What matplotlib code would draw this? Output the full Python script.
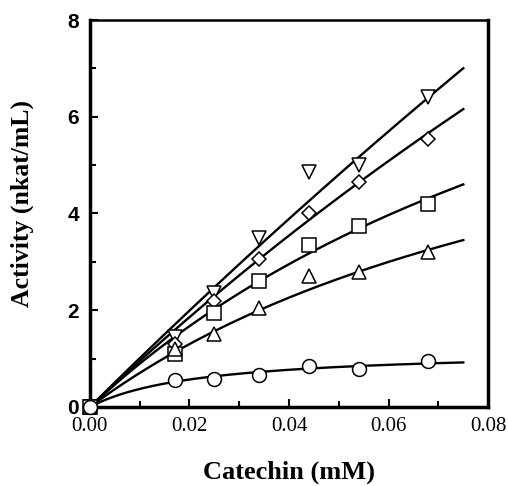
import matplotlib
matplotlib.use("Agg")
import matplotlib.pyplot as plt
import numpy as np
from matplotlib.ticker import MultipleLocator

# catechin concentration (mM)
conc = [0.0, 0.017, 0.025, 0.034, 0.044, 0.054, 0.068]

# activity (nkat/mL) for each series
act_invtri = [0.0, 1.45, 2.35, 3.5, 4.85, 5.0, 6.4]
act_diamond = [0.0, 1.3, 2.2, 3.05, 4.0, 4.65, 5.55]
act_square = [0.0, 1.1, 1.95, 2.6, 3.35, 3.75, 4.2]
act_tri = [0.0, 1.2, 1.5, 2.05, 2.7, 2.8, 3.2]
act_circle = [0.0, 0.55, 0.58, 0.67, 0.85, 0.78, 0.95]

# Michaelis-Menten fit parameters
vmax = [81.7, 39.0, 12.7, 8.65, 1.19]
km = [0.8, 0.40, 0.132, 0.113, 0.0219]

series = [act_invtri, act_diamond, act_square, act_tri, act_circle]
markers = ['v', 'D', 's', '^', 'o']
msizes = [10, 7.5, 9.5, 10, 10]

fig = plt.figure(figsize=(5.08, 4.86), dpi=100)
ax = fig.add_axes([0.177, 0.1626, 0.784, 0.7962])

xfit = np.linspace(0, 0.075, 200)
for y, m, ms, v, k in zip(series, markers, msizes, vmax, km):
    ax.plot(xfit, v * xfit / (k + xfit), color='black', lw=1.7, zorder=2)
    ax.plot(conc, y, linestyle='none', marker=m, ms=ms, mfc='white',
            mec='black', mew=1.1, zorder=3, clip_on=False)

ax.set_xlim(0, 0.08)
ax.set_ylim(0, 8)
ax.xaxis.set_major_locator(MultipleLocator(0.02))
ax.xaxis.set_minor_locator(MultipleLocator(0.01))
ax.yaxis.set_major_locator(MultipleLocator(2))
ax.yaxis.set_minor_locator(MultipleLocator(1))
ax.tick_params(which='both', direction='in', width=1.5)
ax.tick_params(which='major', length=6)
ax.tick_params(which='minor', length=4)
ax.tick_params(axis='x', pad=7)
ax.tick_params(axis='y', pad=8)

ax.set_xticklabels([f"{t:.2f}" for t in ax.get_xticks()],
                   fontfamily='Liberation Serif', fontsize=15)
ax.set_yticklabels([f"{t:.0f}" for t in ax.get_yticks()],
                   fontfamily='Liberation Sans', fontweight='bold', fontsize=15)

for side in ['left', 'bottom', 'right']:
    ax.spines[side].set_linewidth(2.5)
ax.spines['top'].set_linewidth(1.8)

ax.set_xlabel('Catechin (mM)', fontfamily='Liberation Serif',
              fontweight='bold', fontsize=19, labelpad=18)
ax.set_ylabel('Activity (nkat/mL)', fontfamily='Liberation Serif',
              fontweight='bold', fontsize=18.5)
ax.yaxis.set_label_coords(-0.14, 0.525)

fig.savefig('out.png', dpi=100)
